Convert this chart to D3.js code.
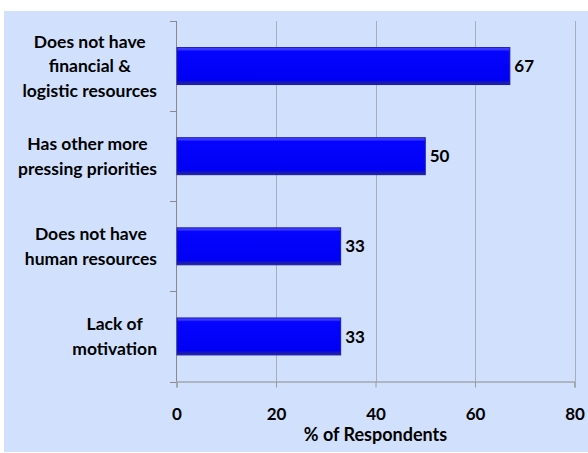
<!DOCTYPE html>
<html>
<head>
<meta charset="utf-8">
<script src="https://cdn.jsdelivr.net/npm/d3@7"></script>
<style>
  html, body { margin: 0; padding: 0; background: #ffffff; }
  svg { display: block; }
  text { font-family: Lato, "Open Sans", sans-serif; font-weight: 700; fill: #000; }
</style>
</head>
<body>
<svg id="chart" width="588" height="453"></svg>
<script>
// Reasons given, top to bottom; "\n" marks a line break in the label
const categories = [
  "Does not have\nfinancial &\nlogistic resources",
  "Has other more\npressing priorities",
  "Does not have\nhuman resources",
  "Lack of\nmotivation"
];
const values = [67, 50, 33, 33];
const xTicks = [0, 20, 40, 60, 80];
const xTitle = "% of Respondents";

const svg = d3.select("#chart");
const margin = { left: 176.5, top: 21 };
const W = 588, H = 453;

// panel background
svg.append("rect")
  .attr("x", 4).attr("y", 11)
  .attr("width", W - 4).attr("height", H - 12)
  .attr("fill", "#d1e1fd");

const x = d3.scaleLinear().domain([0, 80]).range([margin.left, 574.5]);
const y = d3.scaleBand().domain(categories).range([margin.top, 381.5]).padding(0);
const barH = y.bandwidth() * 0.41;

// bar shading
const defs = svg.append("defs");
const grad = defs.append("linearGradient")
  .attr("id", "barFill").attr("x1", 0).attr("y1", 0).attr("x2", 0).attr("y2", 1);
[["0%", "#4a4aff"], ["6%", "#3030ff"], ["10%", "#0505ff"], ["88%", "#0000f4"], ["94%", "#1a1ab4"], ["100%", "#20209a"]]
  .forEach(([o, c]) => grad.append("stop").attr("offset", o).attr("stop-color", c));

// vertical gridlines
svg.append("g")
  .selectAll("line")
  .data(xTicks.filter(t => t > 0))
  .join("line")
  .attr("x1", d => Math.round(x(d)) + 0.5).attr("x2", d => Math.round(x(d)) + 0.5)
  .attr("y1", margin.top).attr("y2", 381.5)
  .attr("stroke", "#a9adb5").attr("stroke-width", 1);

// bottom axis
const xAxis = svg.append("g")
  .attr("transform", "translate(0,381.5)")
  .call(d3.axisBottom(x).tickValues(xTicks).tickSize(6).tickPadding(20).tickFormat(d3.format("d")));
xAxis.select(".domain").attr("stroke", "#8a8a8a");
xAxis.selectAll(".tick line").attr("stroke", "#9a9a9a");
xAxis.selectAll(".tick text")
  .style("font-family", "Lato, 'Open Sans', sans-serif")
  .style("font-weight", 700)
  .style("font-size", "17px")
  .attr("fill", "#000");

// left axis: line plus ticks at category boundaries
const yAxis = svg.append("g");
yAxis.append("line")
  .attr("x1", margin.left).attr("x2", margin.left)
  .attr("y1", margin.top).attr("y2", 381.5)
  .attr("stroke", "#8a8a8a");
const bounds = categories.map(c => y(c)).concat([y.range()[1]]);
yAxis.selectAll("line.tk")
  .data(bounds)
  .join("line").attr("class", "tk")
  .attr("x1", 170).attr("x2", margin.left)
  .attr("y1", d => Math.round(d) + 0.5).attr("y2", d => Math.round(d) + 0.5)
  .attr("stroke", "#8a8a8a");

// bars
svg.append("g")
  .selectAll("rect")
  .data(values)
  .join("rect")
  .attr("x", x(0) + 0.5)
  .attr("y", (d, i) => y(categories[i]) + (y.bandwidth() - barH) / 2)
  .attr("width", d => x(d) - x(0) - 0.5)
  .attr("height", barH)
  .attr("fill", "url(#barFill)")
  .attr("stroke", "#1818b0").attr("stroke-width", 1);

// value labels
svg.append("g")
  .selectAll("text")
  .data(values)
  .join("text")
  .attr("x", d => x(d) + 4.5)
  .attr("y", (d, i) => y(categories[i]) + y.bandwidth() / 2)
  .attr("dy", "0.36em")
  .style("font-size", "17px")
  .text(d => d);

// category labels: each block right-aligned, lines centred within it
const lineGap = 24.5;
categories.forEach(c => {
  const lines = c.split("\n");
  const g = svg.append("g");
  const cy = y(c) + y.bandwidth() / 2;
  const t = g.selectAll("text")
    .data(lines)
    .join("text")
    .attr("text-anchor", "middle")
    .style("font-size", "17.5px")
    .attr("y", (d, i) => cy + (i - (lines.length - 1) / 2) * lineGap)
    .attr("dy", "0.36em")
    .text(d => d);
  let maxW = 0;
  t.each(function () { maxW = Math.max(maxW, this.getComputedTextLength()); });
  t.attr("x", 157 - maxW / 2);
});

// axis title
svg.append("text")
  .attr("x", (x(0) + x(80)) / 2)
  .attr("y", 441)
  .attr("text-anchor", "middle")
  .style("font-size", "18px")
  .text(xTitle);
</script>
</body>
</html>
